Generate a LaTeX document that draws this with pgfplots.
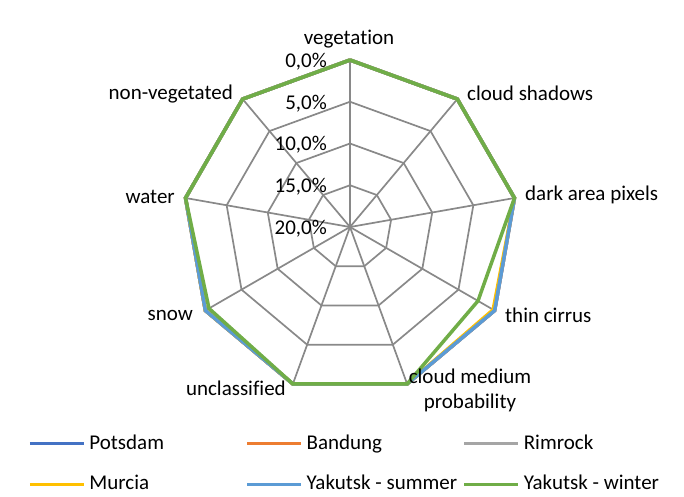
\documentclass[border=0pt]{standalone}
\usepackage{pgfplots}
\pgfplotsset{compat=1.18}
\usepackage{pgfplotstable}
\usepgfplotslibrary{polar}
\usepackage{fontspec}
\setmainfont{Carlito}[Ligatures=NoCommon]

\definecolor{cPotsdam}{HTML}{4472C4}
\definecolor{cBandung}{HTML}{ED7D31}
\definecolor{cRimrock}{HTML}{A5A5A5}
\definecolor{cMurcia}{HTML}{FFC000}
\definecolor{cYsummer}{HTML}{5B9BD5}
\definecolor{cYwinter}{HTML}{70AD47}
\definecolor{gridgray}{HTML}{898989}

% share of pixels per class (percent); the radial axis runs from 0 % at the rim to 20 % at the centre
\pgfplotstableread{
ang   potsdam bandung rimrock murcia ysummer ywinter
90    0 0 0 0    0 0
50    0 0 0 0    0 0
10    0 0 0 0    0 0
-30   0 0 0 0.2  0 2.3
-70   0 0 0 0    0 0
-110  0 0 0 0    0 0
-150  0 0 0 0    0 0.5
-190  0 0 0 0    0 0
-230  0 0 0 0    0 0
-270  0 0 0 0    0 0
}\radar

% nonagon grid rings (radius = 20 - percent)
\pgfplotstableread{
ang  r0 r5 r10 r15
90   20 15 10 5
50   20 15 10 5
10   20 15 10 5
-30  20 15 10 5
-70  20 15 10 5
-110 20 15 10 5
-150 20 15 10 5
-190 20 15 10 5
-230 20 15 10 5
-270 20 15 10 5
}\rings

\newcommand{\lentry}[1]{\hspace{4pt}\makebox[156pt][l]{#1}}

\begin{document}
\fontsize{21}{25}\selectfont
\begin{tikzpicture}
\begin{polaraxis}[
  hide axis,
  scale only axis,
  width=334pt, height=334pt,
  ymin=0, ymax=20,
  clip=false,
  legend columns=3,
  legend style={
    draw=none, fill=none,
    at={(-0.464,-0.121)}, anchor=north west,
    font=\fontsize{21}{25}\selectfont,
    row sep=23pt,
    column sep=0pt,
    inner sep=0pt,
    nodes={inner sep=0pt},
  },
  legend cell align=left,
  legend image code/.code={\draw[#1, line width=3.2pt] (0pt,0pt) -- (54pt,0pt);},
]
\coordinate (O) at (axis cs:0,0);

% grid
\foreach \c in {r0,r5,r10,r15}{
  \addplot[gridgray, line width=1.7pt, forget plot] table[x=ang, y=\c] {\rings};
}
\foreach \a in {90,50,10,-30,-70,-110,-150,-190,-230}{
  \addplot[gridgray, line width=1.7pt, forget plot] coordinates {(\a,0) (\a,20)};
}

% series
\addplot[cPotsdam, line width=3.5pt, line join=miter] table[x=ang, y expr=20-\thisrow{potsdam}] {\radar};
\addlegendentry{\lentry{Potsdam}}
\addplot[cBandung, line width=3.5pt, line join=miter] table[x=ang, y expr=20-\thisrow{bandung}] {\radar};
\addlegendentry{\lentry{Bandung}}
\addplot[cRimrock, line width=3.5pt, line join=miter] table[x=ang, y expr=20-\thisrow{rimrock}] {\radar};
\addlegendentry{\hspace{4pt}Rimrock}
\addplot[cMurcia, line width=3.5pt, line join=miter] table[x=ang, y expr=20-\thisrow{murcia}] {\radar};
\addlegendentry{\lentry{Murcia}}
\addplot[cYsummer, line width=3.5pt, line join=miter] table[x=ang, y expr=20-\thisrow{ysummer}] {\radar};
\addlegendentry{\lentry{Yakutsk - summer}}
\addplot[cYwinter, line width=3.5pt, line join=miter] table[x=ang, y expr=20-\thisrow{ywinter}] {\radar};
\addlegendentry{\hspace{4pt}Yakutsk - winter}
\end{polaraxis}

% radial tick labels
\foreach \v/\r in {0/20,5/15,10/10,15/5,20/0}{
  \node[anchor=east, inner sep=0pt] at ([shift={(-23pt,{\r*8.35pt-1.5pt})}]O) {\v,0\%};
}

% category labels
\node[anchor=center] at ([shift={(-1pt,188pt)}]O) {vegetation};
\node[anchor=west] at ([shift={(110pt,134pt)}]O) {cloud shadows};
\node[anchor=west] at ([shift={(168pt,32pt)}]O) {dark area pixels};
\node[anchor=west] at ([shift={(148pt,-88pt)}]O) {thin cirrus};
\node[align=center, inner sep=0pt] at ([shift={(120pt,-163pt)}]O) {cloud medium\\probability};
\node[anchor=east] at ([shift={(-57pt,-161pt)}]O) {unclassified};
\node[anchor=east] at ([shift={(-150pt,-88pt)}]O) {snow};
\node[anchor=east] at ([shift={(-168pt,30pt)}]O) {water};
\node[anchor=east] at ([shift={(-110pt,133pt)}]O) {non-vegetated};

\path[use as bounding box] ([shift={(-350pt,-269pt)}]O) rectangle ([shift={(334pt,227pt)}]O);
\end{tikzpicture}
\end{document}
